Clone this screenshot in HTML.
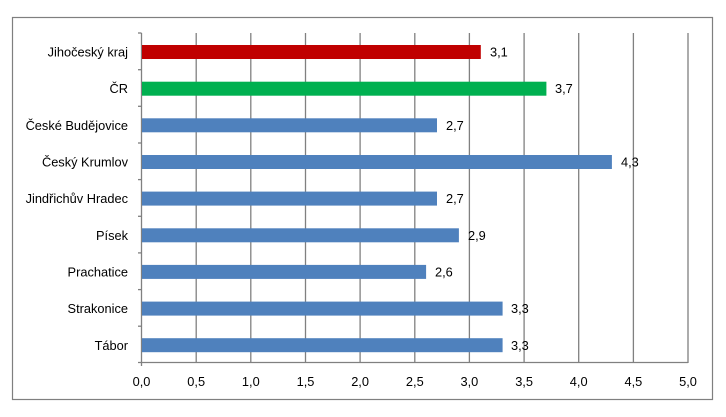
<!DOCTYPE html>
<html><head><meta charset="utf-8"><style>
body{margin:0;background:#fff;width:726px;height:412px;overflow:hidden}
text{font-family:"Liberation Sans","DejaVu Sans",sans-serif;font-size:12.8px;fill:#000}
</style></head><body>
<svg width="726" height="412" xmlns="http://www.w3.org/2000/svg">
<rect x="12.5" y="17.5" width="700" height="382" fill="#fff" stroke="#7f7f7f" stroke-width="1.2"/>
<g stroke="#808080" stroke-width="1.3">
<line x1="196.2" y1="33" x2="196.2" y2="363"/>
<line x1="250.8" y1="33" x2="250.8" y2="363"/>
<line x1="305.5" y1="33" x2="305.5" y2="363"/>
<line x1="360.1" y1="33" x2="360.1" y2="363"/>
<line x1="414.8" y1="33" x2="414.8" y2="363"/>
<line x1="469.4" y1="33" x2="469.4" y2="363"/>
<line x1="524.1" y1="33" x2="524.1" y2="363"/>
<line x1="578.7" y1="33" x2="578.7" y2="363"/>
<line x1="633.4" y1="33" x2="633.4" y2="363"/>
<line x1="688" y1="33" x2="688" y2="363"/>
<line x1="141.5" y1="33" x2="141.5" y2="366"/>
<line x1="138" y1="362.5" x2="688" y2="362.5"/>
<line x1="138" y1="33" x2="141.5" y2="33"/>
<line x1="138" y1="69.7" x2="141.5" y2="69.7"/>
<line x1="138" y1="106.3" x2="141.5" y2="106.3"/>
<line x1="138" y1="143" x2="141.5" y2="143"/>
<line x1="138" y1="179.6" x2="141.5" y2="179.6"/>
<line x1="138" y1="216.3" x2="141.5" y2="216.3"/>
<line x1="138" y1="252.9" x2="141.5" y2="252.9"/>
<line x1="138" y1="289.6" x2="141.5" y2="289.6"/>
<line x1="138" y1="326.2" x2="141.5" y2="326.2"/>
</g>
<g>
<rect x="142" y="45" width="338.8" height="14" fill="#c00000"/>
<rect x="142" y="81.7" width="404.4" height="14" fill="#00b050"/>
<rect x="142" y="118.3" width="295" height="14" fill="#4f81bd"/>
<rect x="142" y="155" width="469.9" height="14" fill="#4f81bd"/>
<rect x="142" y="191.6" width="295" height="14" fill="#4f81bd"/>
<rect x="142" y="228.3" width="316.9" height="14" fill="#4f81bd"/>
<rect x="142" y="264.9" width="284.1" height="14" fill="#4f81bd"/>
<rect x="142" y="301.6" width="360.6" height="14" fill="#4f81bd"/>
<rect x="142" y="338.2" width="360.6" height="14" fill="#4f81bd"/>
</g>
<g text-anchor="end">
<text x="128" y="56.5">Jihočeský kraj</text>
<text x="128" y="93">ČR</text>
<text x="128" y="130">České Budějovice</text>
<text x="128" y="166.5">Český Krumlov</text>
<text x="128" y="203">Jindřichův Hradec</text>
<text x="128" y="240">Písek</text>
<text x="128" y="276.5">Prachatice</text>
<text x="128" y="313">Strakonice</text>
<text x="128" y="350">Tábor</text>
</g>
<g>
<text x="490" y="56.5">3,1</text>
<text x="555" y="93">3,7</text>
<text x="446" y="130">2,7</text>
<text x="621" y="166.5">4,3</text>
<text x="446" y="203">2,7</text>
<text x="468" y="240">2,9</text>
<text x="435" y="276.5">2,6</text>
<text x="511" y="313">3,3</text>
<text x="511" y="350">3,3</text>
</g>
<g text-anchor="middle">
<text x="141.5" y="386">0,0</text>
<text x="196.2" y="386">0,5</text>
<text x="250.8" y="386">1,0</text>
<text x="305.5" y="386">1,5</text>
<text x="360.1" y="386">2,0</text>
<text x="414.8" y="386">2,5</text>
<text x="469.4" y="386">3,0</text>
<text x="524.1" y="386">3,5</text>
<text x="578.7" y="386">4,0</text>
<text x="633.4" y="386">4,5</text>
<text x="688" y="386">5,0</text>
</g>
</svg>
</body></html>
